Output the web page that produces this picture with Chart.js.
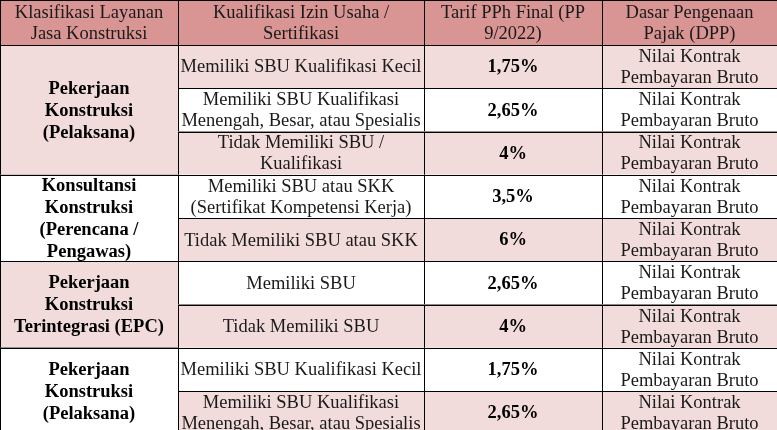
<!DOCTYPE html>
<html><head><meta charset="utf-8">
<script src="https://cdn.jsdelivr.net/npm/chart.js@4/dist/chart.umd.min.js"></script>
<style>html,body{margin:0;padding:0;background:#fff}#w{width:777px;height:430px}</style>
</head><body><div id="w"><canvas id="c"></canvas></div>
<script>
const headers = [["Klasifikasi Layanan","Jasa Konstruksi"],["Kualifikasi Izin Usaha /","Sertifikasi"],["Tarif PPh Final (PP","9/2022)"],["Dasar Pengenaan","Pajak (DPP)"]];
const groupNames = [["Pekerjaan","Konstruksi","(Pelaksana)"],["Konsultansi","Konstruksi","(Perencana /","Pengawas)"],["Pekerjaan","Konstruksi","Terintegrasi (EPC)"],["Pekerjaan","Konstruksi","(Pelaksana)"]];
const groupSizes = [3,2,2,2];
const qualifications = [["Memiliki SBU Kualifikasi Kecil"],["Memiliki SBU Kualifikasi","Menengah, Besar, atau Spesialis"],["Tidak Memiliki SBU /","Kualifikasi"],["Memiliki SBU atau SKK","(Sertifikat Kompetensi Kerja)"],["Tidak Memiliki SBU atau SKK"],["Memiliki SBU"],["Tidak Memiliki SBU"],["Memiliki SBU Kualifikasi Kecil"],["Memiliki SBU Kualifikasi","Menengah, Besar, atau Spesialis"]];
const rates = ["1,75%","2,65%","4%","3,5%","6%","2,65%","4%","1,75%","2,65%"];
const dpp = Array(9).fill(["Nilai Kontrak","Pembayaran Bruto"]);

const colEdges=[0,178,424,602,777];
const HEAD=1.04;
const PINK='#f2dcdb', HEADC='#d99594';
const plugin={id:'table',afterDraw(ch){
  const c=ch.ctx,X=ch.scales.x,Y=ch.scales.y;
  const px=v=>X.getPixelForValue(v), py=v=>Y.getPixelForValue(v);
  function cell(x0,x1,y0,y1,bg,lines,bold){
    const a=px(x0),b=px(x1),t=py(y0),d=py(y1);
    c.fillStyle=bg;c.fillRect(a,t,b-a,d-t);
    c.strokeStyle='#000';c.lineWidth=1;c.strokeRect(Math.round(a)+0.5,Math.round(t)+0.5,b-a,d-t);
    c.fillStyle=bold?'#000':'#1a1a1a';
    c.font=(bold?'bold ':'')+'18.5px "Liberation Serif"';
    c.textAlign='center';c.textBaseline='middle';
    const lh=bold&&lines.length>2?22:21, mid=(t+d)/2+1;
    lines.forEach((s,i)=>c.fillText(s,(a+b)/2,mid+(i-(lines.length-1)/2)*lh));
  }
  c.save();
  headers.forEach((h,i)=>cell(colEdges[i],colEdges[i+1],0,HEAD,HEADC,h,false));
  let r=0;
  groupSizes.forEach((n,g)=>{
    cell(colEdges[0],colEdges[1],HEAD+r,HEAD+r+n,g%2?'#fff':PINK,groupNames[g],true);
    for(let k=0;k<n;k++){const i=r+k,bg=i%2?'#fff':PINK,y0=HEAD+i,y1=y0+1;
      cell(colEdges[1],colEdges[2],y0,y1,bg,qualifications[i],false);
      cell(colEdges[2],colEdges[3],y0,y1,bg,[rates[i]],true);
      cell(colEdges[3],colEdges[4],y0,y1,bg,dpp[i],false);}
    r+=n;
  });
  c.restore();
}};
new Chart(document.getElementById('c'),{type:'scatter',data:{datasets:[{data:[]}]},
 options:{responsive:true,maintainAspectRatio:false,animation:false,layout:{padding:0},
  plugins:{legend:{display:false},tooltip:{enabled:false}},
  scales:{x:{type:'linear',min:0,max:777,display:false},y:{type:'linear',min:0,max:HEAD+8.9,reverse:true,display:false}}},
 plugins:[plugin]});
</script></body></html>
